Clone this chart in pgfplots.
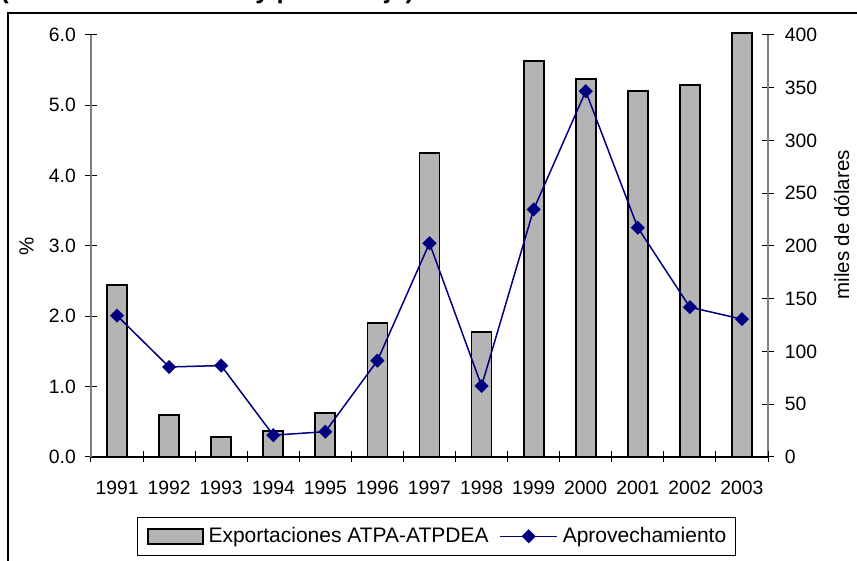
\documentclass[border=0pt]{standalone}
\usepackage{fontspec}
\setmainfont{Liberation Sans}
\usepackage{pgfplots}
\pgfplotsset{compat=1.18}
\definecolor{navyline}{RGB}{0,0,128}
\definecolor{barfill}{RGB}{180,180,180}
\definecolor{axgray}{RGB}{128,128,128}
\pgfplotsset{
  barleg/.style={legend image code/.code={\draw[##1] (0pt,-4.5pt) rectangle (33pt,4.5pt);}},
  lineleg/.style={legend image code/.code={\draw[mark repeat=2, mark phase=2, ##1] plot coordinates {(0pt,0pt) (17pt,0pt) (34pt,0pt)};}},
  base/.style={
    scale only axis, width=406.2pt, height=253.2pt,
    at={(54.6pt,62.4pt)}, anchor=south west,
    xmin=-0.5, xmax=12.5,
    font=\fontsize{11.6}{13.9}\selectfont,
    tick align=center,
    major tick length=7.2pt,
    tick style={black, line width=0.6pt},
    /pgf/number format/assume math mode=true,
  }
}
\begin{document}
\begin{tikzpicture}
% bars, right axis
\begin{axis}[base,
  ymin=0, ymax=400,
  axis x line=none,
  axis y line*=right,
  y axis line style={axgray, line width=0.8pt},
  ytick={0,50,...,400},
  yticklabel style={anchor=west, xshift=3pt},
  ylabel={miles de dólares},
  ylabel style={at={(axis description cs:1.109,0.55)}, anchor=center, font=\fontsize{12.3}{14}\selectfont},
  clip=false,
]
\addplot[ybar, bar width=12pt, fill=barfill, draw=black, line width=1.1pt]
coordinates {(0,163) (1,40) (2,19) (3,24.6) (4,41.4) (5,126.7) (6,287.9) (7,118.8) (8,375.4) (9,358) (10,346.9) (11,352.3) (12,401.5)};
\end{axis}
% line, left axis
\begin{axis}[base,
  ymin=0, ymax=6,
  axis x line*=bottom,
  axis y line*=left,
  x axis line style={black, line width=0.8pt, -},
  y axis line style={axgray, line width=0.8pt, -},
  ytick={0,1,...,6},
  yticklabel style={/pgf/number format/fixed, /pgf/number format/fixed zerofill, /pgf/number format/precision=1},
  yticklabel style={anchor=east, xshift=-2pt},
  ylabel={\%},
  ylabel style={at={(axis description cs:-0.095,0.5)}, anchor=center, font=\fontsize{12.3}{14}\selectfont},
  xtick={0,...,12},
  xticklabels={1991,1992,1993,1994,1995,1996,1997,1998,1999,2000,2001,2002,2003},
  major x tick style={draw=none},
  minor xtick={-0.5,0.5,...,12.5},
  minor tick length=6.6pt,
  minor x tick style={black, line width=0.6pt},
  xticklabel style={anchor=north, yshift=-7.5pt},
  legend columns=2,
  legend style={at={(axis description cs:0.5103,-0.188)}, anchor=center,
    draw=black, line width=0.6pt, font=\fontsize{12.6}{15}\selectfont,
    inner xsep=5.5pt, inner ysep=5.5pt,
    nodes={inner xsep=0pt, inner ysep=0.5pt},
    /tikz/every odd column/.append style={column sep=3pt},
    /tikz/every even column/.append style={column sep=6.6pt}},
]
\addlegendimage{barleg, fill=barfill, draw=black, line width=1.1pt}
\addlegendentry{Exportaciones ATPA-ATPDEA}
\addplot[lineleg, color=navyline, line width=0.9pt, mark=square*, mark size=2.55pt,
  mark options={rotate=45, fill=navyline, draw=navyline}]
coordinates {(0,2.01) (1,1.28) (2,1.30) (3,0.31) (4,0.36) (5,1.37) (6,3.04) (7,1.01) (8,3.52) (9,5.20) (10,3.26) (11,2.13) (12,1.96)};
\addlegendentry{Aprovechamiento}
\end{axis}
% frame and clipped title
\draw[line width=0.9pt] (4.8pt,-20pt) -- (4.8pt,328.8pt) -- (540pt,328.8pt);
\node[anchor=base west, inner sep=0pt, font=\fontsize{15.3}{18}\selectfont\bfseries] at (0pt,337.2pt) {(En miles de dólares y porcentaje)};
\pgfresetboundingbox
\path[use as bounding box] (0pt,0pt) rectangle (514.2pt,336.6pt);
\end{tikzpicture}
\end{document}
